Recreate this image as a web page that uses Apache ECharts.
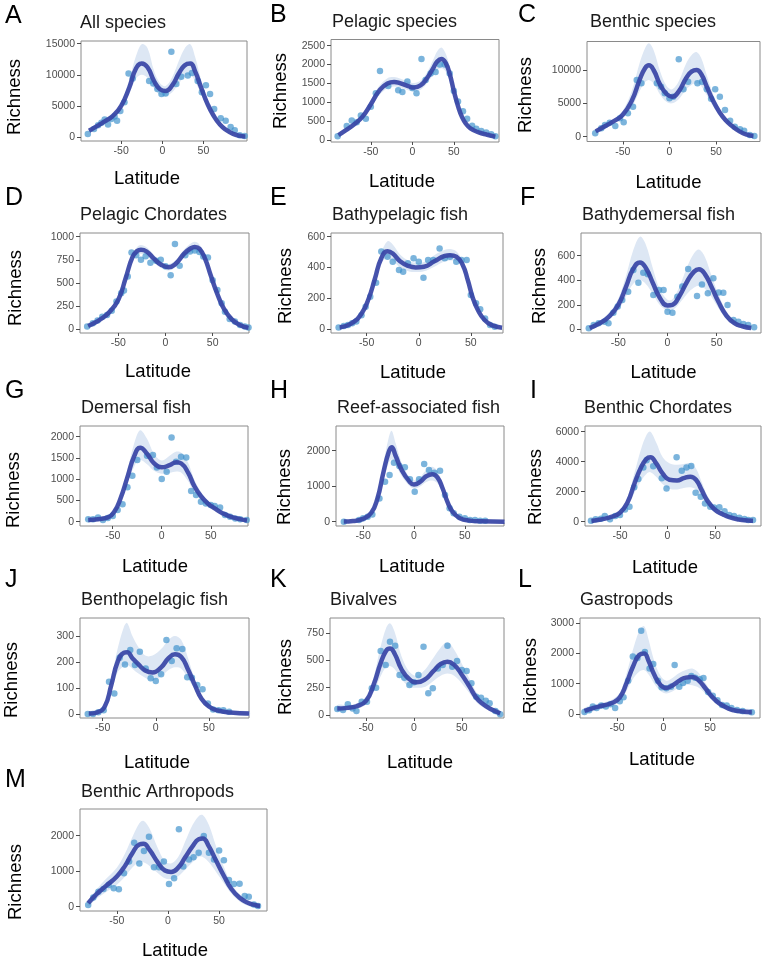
<!DOCTYPE html>
<html><head><meta charset="utf-8">
<script src="https://cdn.jsdelivr.net/npm/echarts@6/dist/echarts.min.js"></script>
<style>html,body{margin:0;padding:0;background:#fff}#c{width:762px;height:965px}</style>
</head><body><div id="c"></div>
<script>
// ---------- text ----------
const letters = ['A','B','C','D','E','F','G','H','I','J','K','L','M'];
const titles = ['All species','Pelagic species','Benthic species','Pelagic Chordates','Bathypelagic fish','Bathydemersal fish','Demersal fish','Reef-associated fish','Benthic Chordates','Benthopelagic fish','Bivalves','Gastropods','Benthic Arthropods'];
const xName = 'Latitude';
const yName = 'Richness';

// ---------- tick labels ----------
const xTicks = [-50, 0, 50];
const yTicksA = [0, 5000, 10000, 15000];
const yTicksB = [0, 500, 1000, 1500, 2000, 2500];
const yTicksC = [0, 5000, 10000];
const yTicksD = [0, 250, 500, 750, 1000];
const yTicksE = [0, 200, 400, 600];
const yTicksF = [0, 200, 400, 600];
const yTicksG = [0, 500, 1000, 1500, 2000];
const yTicksH = [0, 1000, 2000];
const yTicksI = [0, 2000, 4000, 6000];
const yTicksJ = [0, 100, 200, 300];
const yTicksK = [0, 250, 500, 750];
const yTicksL = [0, 1000, 2000, 3000];
const yTicksM = [0, 1000, 2000];

// ---------- data: observed points [latitude, richness] ----------
const dotsA = [[-90.5,500],[-83,1300],[-78,1900],[-74,2300],[-70,2800],[-66,2000],[-62,2900],[-58,3300],[-55,2600],[-51,4200],[-46,5600],[-41,10200],[-36,9400],[-16,9000],[-11,8600],[-6,7700],[-1,6900],[4,7000],[11,13700],[17,8500],[23,9700],[31,9900],[36,10300],[43,9000],[48,7200],[53,8300],[58,6900],[63,4500],[71,3000],[77,2600],[83,1600],[88,1100],[94,300],[100,150]];
const dotsB = [[-90,100],[-79,370],[-73,520],[-67,470],[-62,650],[-56,560],[-50,880],[-44,1240],[-39,1830],[-29,1430],[-17,1320],[-12,1270],[-6,1550],[0,1380],[5,1240],[11,2150],[16,1590],[22,1760],[28,1800],[33,2000],[39,2000],[45,1760],[50,1300],[55,1020],[61,760],[66,560],[72,380],[77,300],[83,240],[89,200],[95,150],[100,100]];
const dotsC = [[-79.5,500],[-73,1250],[-69,1750],[-64,2100],[-58,1600],[-53,2750],[-49,2150],[-44.5,3500],[-39,4500],[-35,8500],[-30,8000],[-13.5,8000],[-9,7500],[-5,6500],[0,5750],[4,6000],[10,11600],[15,7100],[20,8250],[30,8000],[35,8250],[40,7100],[44.6,5700],[49,7100],[54,6000],[59.5,4000],[65,2400],[70,1500],[75.6,1100],[80,900],[86,250],[91,100]];
const dotsD = [[-83,30],[-77,65],[-72,95],[-67,135],[-62,155],[-57,200],[-52,300],[-47,390],[-44,420],[-40,570],[-36,830],[-31,800],[-26,750],[-21,790],[-16,720],[-10,740],[-5,750],[0,680],[5.5,585],[10,920],[15,685],[21,800],[26,840],[31,850],[36,835],[40,785],[45,775],[50,530],[55,425],[59.5,280],[63,190],[68,110],[73.5,85],[79,47],[84,30],[88,20]];
const dotsE = [[-77,9],[-72,19],[-68,26],[-64,37],[-60,48],[-55,90],[-51,145],[-46.6,210],[-41,300],[-36,503],[-30,470],[-25,437],[-19,383],[-15,372],[-10.5,427],[-5,460],[0,437],[4.5,333],[9,448],[14,448],[20,524],[25,460],[30,470],[36,437],[41,448],[46,448],[50,221],[55,167],[59,128],[63.7,69],[68.5,26],[73,15],[81,9]];
const dotsF = [[-80,8],[-75,35],[-70,49],[-64,62],[-60,50],[-55,136],[-50.6,185],[-46,239],[-40,307],[-34.7,483],[-29.6,380],[-24.6,462],[-20,448],[-14.4,280],[-8.6,320],[-4,320],[0,144],[5,136],[10,266],[15,348],[21,492],[30,272],[35,366],[41,293],[46.6,416],[52,300],[56.7,299],[61,198],[67,76],[72,62],[77,43],[82,35],[88,16]];
const dotsG = [[-75,55],[-70,55],[-65,100],[-60,40],[-55,90],[-50,133],[-45,275],[-40,408],[-35,808],[-30,1083],[-25,1451],[-15,1550],[-9,1569],[-5,1278],[0,1005],[5,1176],[10,1984],[14.6,1412],[19.7,1529],[25,1513],[30,722],[35,627],[40,471],[45,431],[50,392],[54,369],[59.5,337],[64.6,157],[69.7,118],[75,78],[80,55],[86.7,40]];
const dotsH = [[-69,0],[-54,50],[-50,100],[-45.6,140],[-41,200],[-34,657],[-28.5,1127],[-24,1315],[-19.7,1662],[-14.4,1569],[-9,1531],[-4,1193],[0.7,845],[5,1193],[10,1625],[14.7,1456],[20,1380],[25.6,1437],[30.5,751],[35,376],[39,235],[44.6,141],[50,94],[55,47],[60,47],[65,30],[70,30],[89.5,0]];
const dotsI = [[-80.5,70],[-75.6,160],[-70,200],[-66,380],[-60.5,160],[-55,380],[-50,450],[-44.7,820],[-40,1000],[-35,2290],[-30.7,2850],[-25.4,3620],[-22,4100],[-15,3700],[-6,2890],[-1,2220],[9.6,4290],[15,3400],[20,3620],[25,3710],[29.6,1930],[35,1670],[39.5,1220],[45,1000],[49,940],[54.6,960],[60,700],[65,450],[70,380],[75.6,270],[81,180],[85,120],[90,110]];
const dotsJ = [[-64,1],[-59,1],[-54,8],[-49,16],[-44,125],[-39,80],[-34,217],[-29,191],[-24,246],[-19.6,189],[-15,240],[-9.5,176],[-4.8,138],[0,128],[5,154],[10,285],[15,204],[19.6,253],[25,250],[29.6,142],[34,140],[39,112],[44,96],[49,42],[54,19],[59,16],[63.6,16],[69,10],[88,4]];
const dotsK = [[-80,55],[-74,46],[-69,98],[-64,60],[-60,37],[-54.5,122],[-49,122],[-44,245],[-39.5,251],[-34.7,588],[-29.5,459],[-25,673],[-19.6,637],[-15,367],[-10,343],[-4.7,275],[0,300],[4.7,367],[10,627],[15,199],[19.7,245],[25,428],[30,459],[35,637],[40,444],[45,496],[50,413],[55,404],[60,291],[65,168],[70,159],[75,130],[79,107],[85,37],[90,6]];
const dotsL = [[-85,70],[-80,120],[-76,250],[-72,200],[-67,280],[-62,250],[-57,320],[-52,200],[-47,420],[-43,550],[-38,1100],[-33,1900],[-28,1850],[-24,2750],[-20,2050],[-15,1500],[-11,1650],[-6,1100],[-2,880],[3,850],[8,900],[12,1620],[17,900],[21,1020],[26,1100],[30,1250],[34,1200],[39,1150],[43,1190],[48,730],[53,600],[58,450],[63,300],[68,280],[73,200],[79,130],[85,100],[95,60]];
const dotsM = [[-78,50],[-73,260],[-68,420],[-63,500],[-58,610],[-53,520],[-48,490],[-43,940],[-38,1270],[-33,1800],[-28,1220],[-23.5,1570],[-18.6,1970],[-13.7,1110],[-8.8,1110],[-4,1270],[1,640],[6,800],[10.7,2180],[15,1130],[20.5,1330],[25,1390],[30,1520],[35,1990],[40,1520],[45,1330],[50,1580],[54.7,1310],[59.6,750],[64.5,640],[70,650],[75,300],[79,280],[84,60],[88,20]];

// ---------- data: fitted curve [latitude, fit, lower, upper] ----------
const fitA = [[-89,1000,800,1200],[-80,1700,1450,1950],[-70,2500,2200,2800],[-60,3400,3100,3750],[-50,5000,4500,5600],[-40,8000,7000,9300],[-32,11000,9400,13000],[-25,11800,10000,14900],[-18,11200,9500,14300],[-10,9000,7800,10600],[-3,7700,6800,8700],[4,7400,6600,8200],[12,8300,7200,9600],[20,10200,8600,12200],[27,11500,9700,14200],[34,11800,10000,14900],[40,10500,8900,12800],[47,8000,6900,9300],[55,5300,4600,6000],[62,3500,3000,4000],[70,2000,1700,2300],[78,1100,900,1300],[86,500,350,650],[94,200,100,320],[101,100,0,220]];
const fitB = [[-89,130,90,170],[-80,260,210,310],[-70,420,360,480],[-60,620,540,700],[-50,950,850,1060],[-40,1300,1180,1430],[-30,1500,1370,1640],[-22,1540,1420,1670],[-15,1510,1400,1630],[-5,1430,1320,1550],[2,1390,1280,1510],[10,1450,1330,1580],[18,1650,1510,1800],[25,1900,1720,2120],[30,2080,1850,2350],[35,2150,1900,2450],[40,2050,1820,2300],[45,1750,1560,1950],[50,1300,1170,1430],[55,900,800,1000],[60,600,530,670],[65,420,370,470],[70,310,270,350],[80,200,170,230],[90,140,110,170],[100,90,60,120]];
const fitC = [[-79,800,600,1000],[-70,1500,1250,1750],[-60,2300,2000,2600],[-50,3300,2800,3900],[-40,5500,4500,7000],[-32,8500,6800,11000],[-26,10300,8200,13300],[-22,10700,8500,14000],[-17,10000,8000,13000],[-10,7800,6300,9800],[-3,6400,5200,7600],[3,6000,5000,7100],[10,6800,5600,8300],[18,8800,7100,11000],[24,9800,7800,12300],[29,10000,8000,12700],[34,9400,7600,11800],[40,7500,6200,9200],[47,5300,4500,6300],[54,3600,3100,4200],[60,2500,2100,2900],[67,1600,1350,1850],[75,800,600,1000],[83,300,150,450],[90,100,0,250]];
const fitD = [[-82,35,25,45],[-75,70,58,82],[-70,100,88,112],[-60,180,165,195],[-50,320,300,340],[-42,560,530,590],[-35,780,745,815],[-30,845,805,890],[-26,860,815,910],[-20,840,795,885],[-12,760,720,800],[-5,700,665,735],[3,670,635,705],[10,700,665,740],[20,820,780,865],[26,870,825,920],[31,890,840,945],[36,870,825,915],[42,760,720,800],[48,580,550,610],[55,380,355,405],[62,220,200,240],[70,110,95,125],[78,50,38,62],[88,15,5,25]];
const fitE = [[-76,10,3,17],[-65,35,26,44],[-55,100,88,112],[-48,200,185,215],[-42,330,310,350],[-36,460,430,495],[-30,505,460,570],[-25,490,445,550],[-18,440,400,485],[-10,410,375,445],[-3,400,370,430],[5,405,375,435],[15,440,405,480],[25,475,440,515],[30,480,445,520],[36,470,440,505],[42,420,395,445],[47,320,300,340],[52,200,185,215],[57,120,108,132],[63,60,50,70],[70,25,16,34],[80,8,1,15]];
const fitF = [[-79,10,0,20],[-70,45,30,60],[-60,100,75,130],[-50,200,155,250],[-42,350,270,440],[-35,490,370,640],[-28,545,400,755],[-22,500,370,690],[-15,380,290,500],[-8,260,200,330],[0,195,150,240],[5,200,155,245],[12,270,210,345],[20,390,290,510],[27,470,340,620],[32,490,355,650],[38,450,330,590],[45,340,260,430],[52,220,170,280],[60,110,80,145],[68,50,30,70],[76,25,10,40],[85,10,0,22]];
const fitG = [[-75,40,0,80],[-65,60,20,100],[-55,100,50,150],[-48,250,190,310],[-42,550,460,650],[-35,1050,900,1220],[-28,1550,1300,1850],[-22,1740,1450,2150],[-15,1600,1350,1950],[-8,1380,1200,1600],[0,1280,1130,1440],[8,1330,1150,1550],[15,1400,1180,1650],[20,1370,1150,1620],[27,1150,950,1380],[33,850,700,1000],[40,600,500,700],[47,430,360,500],[55,300,240,360],[62,200,150,250],[70,120,80,160],[80,60,20,100],[87,30,0,70]];
const fitH = [[-69,5,-30,40],[-60,20,-15,55],[-50,80,40,120],[-42,250,190,310],[-36,650,540,760],[-30,1400,1180,1650],[-25,1950,1650,2350],[-22,2100,1750,2560],[-18,1850,1600,2200],[-12,1450,1280,1650],[-5,1150,1020,1280],[0,1050,930,1170],[6,1120,990,1260],[12,1280,1120,1460],[18,1340,1160,1550],[23,1250,1080,1430],[28,950,820,1080],[33,550,460,640],[38,280,220,340],[45,100,60,140],[55,30,0,60],[65,10,-20,40],[89,0,-30,30]];
const fitI = [[-80,50,-50,150],[-70,150,50,250],[-60,300,180,420],[-50,600,450,760],[-42,1300,1000,1650],[-35,2500,1900,3200],[-28,3600,2700,4800],[-22,4200,3200,5800],[-18,4300,3300,6000],[-12,3900,3000,5300],[-5,3200,2500,4300],[2,2800,2200,3900],[10,2750,2150,3800],[17,2900,2250,3850],[24,3000,2300,3900],[30,2800,2150,3550],[36,2100,1650,2650],[42,1400,1100,1750],[50,800,620,1000],[58,500,380,620],[65,300,200,400],[75,150,50,250],[85,80,-20,180],[90,60,-40,160]];
const fitJ = [[-63,3,-5,11],[-55,8,0,16],[-48,30,15,45],[-42,110,85,135],[-36,200,160,250],[-30,236,185,335],[-27,238,190,350],[-22,215,175,300],[-16,190,155,255],[-10,168,140,225],[-3,160,130,225],[5,180,145,250],[12,215,170,285],[18,230,180,300],[24,220,175,285],[30,175,140,220],[37,110,90,130],[43,60,48,72],[50,30,20,40],[58,15,6,24],[70,7,0,14],[88,3,-5,11]];
const fitK = [[-80,60,30,90],[-70,65,40,90],[-60,80,55,105],[-50,130,95,170],[-42,280,210,350],[-35,470,350,620],[-29,590,440,800],[-25,610,450,842],[-20,560,420,760],[-13,420,330,540],[-5,330,260,400],[3,300,250,360],[12,330,260,420],[20,400,310,520],[28,470,360,620],[35,490,380,670],[42,460,360,600],[50,370,290,470],[58,260,200,330],[65,160,120,210],[72,100,70,130],[80,55,30,80],[90,15,-10,40]];
const fitL = [[-85,100,0,200],[-75,200,100,300],[-65,280,180,380],[-55,370,260,480],[-47,550,420,700],[-40,1000,750,1300],[-33,1550,1150,2100],[-26,1950,1400,2750],[-21,2000,1450,2900],[-16,1750,1300,2450],[-10,1300,1000,1750],[-3,950,750,1250],[3,860,680,1100],[10,950,750,1200],[17,1100,880,1350],[24,1200,960,1450],[31,1220,950,1500],[38,1100,870,1350],[45,850,680,1030],[52,580,460,700],[60,350,260,440],[70,180,100,260],[80,100,20,180],[95,60,-30,150]];
const fitM = [[-78,100,20,180],[-70,350,220,480],[-60,600,420,800],[-50,850,620,1100],[-42,1150,850,1500],[-35,1500,1100,1950],[-28,1750,1250,2350],[-24,1770,1250,2420],[-18,1600,1150,2200],[-10,1250,950,1650],[-3,1020,800,1280],[3,980,780,1220],[10,1100,860,1400],[17,1400,1050,1850],[24,1700,1250,2300],[30,1900,1400,2550],[34,1920,1400,2580],[40,1700,1250,2300],[47,1300,980,1700],[55,850,650,1100],[62,500,370,650],[70,250,150,350],[78,110,30,190],[86,40,-30,110],[90,20,-40,80]];

const allDots = [dotsA,dotsB,dotsC,dotsD,dotsE,dotsF,dotsG,dotsH,dotsI,dotsJ,dotsK,dotsL,dotsM];
const allFits = [fitA,fitB,fitC,fitD,fitE,fitF,fitG,fitH,fitI,fitJ,fitK,fitL,fitM];
const allYTicks = [yTicksA,yTicksB,yTicksC,yTicksD,yTicksE,yTicksF,yTicksG,yTicksH,yTicksI,yTicksJ,yTicksK,yTicksL,yTicksM];

// ---------- layout (pixels) ----------
const boxes = [[81,41,247,141],[331,39.5,499,142],[587,41.5,760,141.5],
  [80,233,249,333],[331,233,503,333],[581,233,761,333],
  [80,426,248,526],[336,426,504,526],[585,426,761,526],
  [80,618,249,718],[330,618,504,718],[580,618,760,718],
  [80,809,267,911]];
const xRanges = [[-98.8,102.9],[-98,104.4],[-88.3,97],[-90.6,88.5],[-84.3,80.9],[-87.9,95],[-83.4,88],[-76.7,88.5],[-86.8,98.4],[-71.3,87.7],[-87.6,94],[-89.8,103.8],[-86,96.8]];
const yRanges = [[-640,15430],[-53,2664],[-720,14273],[-40,1040],[-26,624],[-30,785],[-101,2252],[-121,2696],[-287,6380],[-14,369],[-28,891],[-132,3168],[-121,2752]];
const letterPos = [[5,16],[270,15],[518,15],[5,198],[270,198],[520,198],[5,391],[270,391],[530,391],[5,580],[270,580],[518,580],[5,780]];
const titlePos = [[80,23],[332,22.5],[590,22.5],[80,215],[332,215],[582,215],[81,408],[337,408],[584,408],[81,600],[330,600],[580,600],[81,792]];
const yNamePos = [[14.5,97],[281,91],[526,95],[15.5,288],[286,286],[540,286],[14,490],[284.5,487],[536,487],[12,680],[286,677],[531,676],[16,882]];
const xNamePos = [[147,178.5],[402,181.7],[668.5,183],[158,372],[413,373],[663.5,373],[155,567],[412,567],[665,568],[157,763],[420,763],[662,760],[175,951]];

const FONT = '"Liberation Sans", Arial, Helvetica, sans-serif';
const RIBBON = '#dde7f4';
const LINE = 'rgba(55,68,165,0.92)';
const DOT = 'rgba(62,145,204,0.85)';
const TICKC = '#4d4d4d';

function ribbonRenderer(fit) {
  return function (params, api) {
    const up = fit.map(d => api.coord([d[0], d[3]]));
    const lo = fit.slice().reverse().map(d => api.coord([d[0], d[2]]));
    return {type: 'polygon', silent: true,
      shape: {points: up.concat(lo), smooth: 0.35},
      style: {fill: RIBBON}};
  };
}

const grid = [], xAxis = [], yAxis = [], series = [], graphic = [];
for (let i = 0; i < 13; i++) {
  const [l, t, r, b] = boxes[i];
  grid.push({left: l, top: t, width: r - l, height: b - t, show: true, borderColor: '#8a8a8a', borderWidth: 1, backgroundColor: 'transparent'});
  xAxis.push({type: 'value', gridIndex: i, min: xRanges[i][0], max: xRanges[i][1],
    axisLine: {show: false, onZero: false}, splitLine: {show: false},
    axisTick: {show: true, length: 3, lineStyle: {color: TICKC}, customValues: xTicks},
    axisLabel: {customValues: xTicks, fontSize: 10.5, color: TICKC, margin: 5, fontFamily: FONT, formatter: v => String(v)}});
  yAxis.push({type: 'value', gridIndex: i, min: yRanges[i][0], max: yRanges[i][1],
    axisLine: {show: false, onZero: false}, splitLine: {show: false},
    axisTick: {show: true, length: 4, lineStyle: {color: TICKC}, customValues: allYTicks[i]},
    axisLabel: {customValues: allYTicks[i], fontSize: 10.5, color: TICKC, margin: 6, fontFamily: FONT, formatter: v => String(v)}});
  const fit = allFits[i];
  series.push({type: 'custom', coordinateSystem: 'cartesian2d', xAxisIndex: i, yAxisIndex: i, z: 1, silent: true,
    renderItem: ribbonRenderer(fit), data: [[fit[0][0], fit[0][1]]]});
  series.push({type: 'scatter', xAxisIndex: i, yAxisIndex: i, symbolSize: 6.5, z: 2,
    itemStyle: {color: DOT}, data: allDots[i]});
  series.push({type: 'line', xAxisIndex: i, yAxisIndex: i, smooth: true, symbol: 'none', z: 3,
    lineStyle: {color: LINE, width: 4.5}, data: fit.map(d => [d[0], d[1]])});

  graphic.push({type: 'text', x: letterPos[i][0], y: letterPos[i][1],
    style: {text: letters[i], fontSize: 25, fontFamily: FONT, fill: '#000', align: 'left', verticalAlign: 'middle'}});
  graphic.push({type: 'text', x: titlePos[i][0], y: titlePos[i][1],
    style: {text: titles[i], fontSize: 18, fontFamily: FONT, fill: '#1a1a1a', align: 'left', verticalAlign: 'middle'}});
  graphic.push({type: 'text', x: yNamePos[i][0], y: yNamePos[i][1], rotation: Math.PI / 2,
    style: {text: yName, fontSize: 18.5, fontFamily: FONT, fill: '#000', align: 'center', verticalAlign: 'middle'}});
  graphic.push({type: 'text', x: xNamePos[i][0], y: xNamePos[i][1],
    style: {text: xName, fontSize: 18.5, fontFamily: FONT, fill: '#000', align: 'center', verticalAlign: 'middle'}});
}

const chart = echarts.init(document.getElementById('c'), null, {renderer: 'canvas'});
chart.setOption({animation: false, backgroundColor: '#fff', grid, xAxis, yAxis, series, graphic});
</script></body></html>
